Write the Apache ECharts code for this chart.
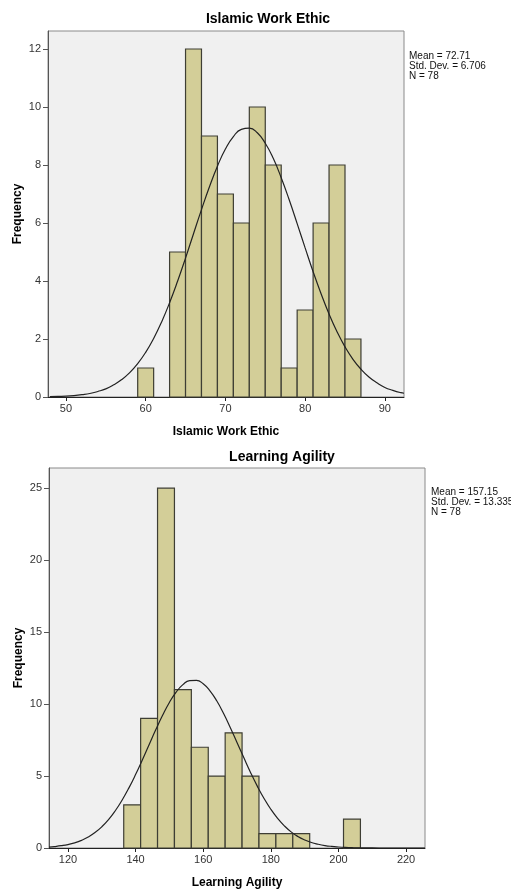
<!DOCTYPE html>
<html lang="en">
<head>
    <meta charset="UTF-8">
    <title>Histograms</title>
    <script src="https://cdn.jsdelivr.net/npm/echarts@6/dist/echarts.min.js"></script>
    <style>
        html, body { margin: 0; padding: 0; background: #fff; }
    </style>
</head>
<body>
<div id="main" style="width:511px;height:890px;"></div>
<script type="text/javascript">
    // Islamic Work Ethic: bin edges (width 2) and counts
    var iweBinStart = [59, 63, 65, 67, 69, 71, 73, 75, 77, 79, 81, 83, 85];
    var iweBinWidth = 2;
    var iweCounts = [1, 5, 12, 9, 7, 6, 10, 8, 1, 3, 6, 8, 2];
    // normal curve
    var iweCurveX = [48, 49, 50, 51, 52, 53, 54, 55, 56, 57, 58, 59, 60, 61, 62, 63, 64, 65, 66, 67, 68, 69, 70,
        71, 72, 73, 74, 75, 76, 77, 78, 79, 80, 81, 82, 83, 84, 85, 86, 87, 88, 89, 90, 91, 92, 92.4];
    var iweCurveY = [0.01, 0.02, 0.03, 0.05, 0.08, 0.12, 0.19, 0.28, 0.42, 0.6, 0.84, 1.15, 1.54, 2.02, 2.59, 3.25, 3.99, 4.79, 5.63, 6.46, 7.25, 7.96, 8.55,
        8.98, 9.23, 9.27, 9.11, 8.75, 8.23, 7.56, 6.8, 5.98, 5.14, 4.32, 3.56, 2.86, 2.25, 1.73, 1.3, 0.96, 0.69, 0.49, 0.33, 0.23, 0.15, 0.13];
    var iweXTicks = [50, 60, 70, 80, 90];
    var iweYTicks = [0, 2, 4, 6, 8, 10, 12];

    // Learning Agility: bin edges (width 5) and counts
    var laBinStart = [136.5, 141.5, 146.5, 151.5, 156.5, 161.5, 166.5, 171.5, 176.5, 181.5, 186.5, 201.5];
    var laBinWidth = 5;
    var laCounts = [3, 9, 25, 11, 7, 5, 8, 5, 1, 1, 1, 2];
    var laCurveX = [114.4, 116, 118, 120, 122, 124, 126, 128, 130, 132, 134, 136, 138, 140, 142, 144, 146, 148, 150, 152, 154, 156,
        158, 160, 162, 164, 166, 168, 170, 172, 174, 176, 178, 180, 182, 184, 186, 188, 190, 192, 194, 196, 198, 200, 202, 204, 206, 208, 212, 218, 225.6];
    var laCurveY = [0.06, 0.1, 0.16, 0.24, 0.36, 0.53, 0.76, 1.07, 1.47, 1.97, 2.59, 3.32, 4.16, 5.1, 6.12, 7.18, 8.23, 9.22, 10.11, 10.83, 11.35, 11.63,
        11.65, 11.41, 10.92, 10.23, 9.36, 8.38, 7.33, 6.28, 5.25, 4.3, 3.44, 2.69, 2.06, 1.54, 1.12, 0.8, 0.56, 0.38, 0.26, 0.17, 0.11, 0.07, 0.04, 0.02, 0.01, 0.01, 0, 0, 0];
    var laXTicks = [120, 140, 160, 180, 200, 220];
    var laYTicks = [0, 5, 10, 15, 20, 25];

    var myChart = echarts.init(document.getElementById('main'));
    var font = 'Liberation Sans, Arial, sans-serif';

    function bins(starts, width, counts) {
        return starts.map(function (s, i) { return [s, s + width, counts[i]]; });
    }
    function zip(xs, ys) {
        return xs.map(function (x, i) { return [x, ys[i]]; });
    }
    function renderBar(params, api) {
        var p0 = api.coord([api.value(0), api.value(2)]);
        var p1 = api.coord([api.value(1), 0]);
        return {
            type: 'rect',
            shape: { x: p0[0], y: p0[1], width: p1[0] - p0[0], height: p1[1] - p0[1] },
            style: { fill: '#d3ce98', stroke: '#3e3e34', lineWidth: 1.2 }
        };
    }
    function xAxis(idx, min, max, ticks, name) {
        return {
            type: 'value', gridIndex: idx, min: min, max: max,
            name: name, nameLocation: 'middle', nameGap: 29, nameMoveOverlap: false,
            nameTextStyle: { fontFamily: font, fontWeight: 'bold', fontSize: 12, color: '#000' },
            splitLine: { show: false },
            axisLine: { lineStyle: { color: '#222', width: 1 } },
            axisTick: { length: 4, lineStyle: { color: '#222' }, customValues: ticks },
            axisLabel: { fontFamily: font, fontSize: 11, color: '#333', margin: 6, customValues: ticks }
        };
    }
    function yAxis(idx, max, ticks) {
        return {
            type: 'value', gridIndex: idx, min: 0, max: max,
            name: 'Frequency', nameLocation: 'middle', nameGap: 24, nameRotate: 90, nameMoveOverlap: false,
            nameTextStyle: { fontFamily: font, fontWeight: 'bold', fontSize: 12, color: '#000' },
            splitLine: { show: false },
            axisLine: { show: true, lineStyle: { color: '#555', width: 1 } },
            axisTick: { length: 5, lineStyle: { color: '#555' }, customValues: ticks },
            axisLabel: { fontFamily: font, fontSize: 11, color: '#333', margin: 7, customValues: ticks }
        };
    }

    var option = {
        animation: false,
        grid: [
            { left: 48, top: 31, width: 356, height: 366, outerBoundsMode: 'none', show: true, backgroundColor: '#f0f0f0', borderColor: '#8a8a8a', borderWidth: 1 },
            { left: 49, top: 468, width: 376, height: 380, outerBoundsMode: 'none', show: true, backgroundColor: '#f0f0f0', borderColor: '#8a8a8a', borderWidth: 1 }
        ],
        xAxis: [
            xAxis(0, 47.75, 92.4, iweXTicks, 'Islamic Work Ethic'),
            xAxis(1, 114.4, 225.6, laXTicks, 'Learning Agility')
        ],
        yAxis: [
            yAxis(0, 12.62, iweYTicks),
            yAxis(1, 26.4, laYTicks)
        ],
        graphic: [
            { type: 'text', x: 268, y: 19, style: { text: 'Islamic Work Ethic', font: 'bold 14px ' + font, fill: '#000', align: 'center', verticalAlign: 'middle' } },
            { type: 'text', x: 282, y: 457, style: { text: 'Learning Agility', font: 'bold 14px ' + font, fill: '#000', align: 'center', verticalAlign: 'middle' } },
            { type: 'text', x: 409, y: 51, style: { text: 'Mean = 72.71\nStd. Dev. = 6.706\nN = 78', font: '10px ' + font, lineHeight: 10, fill: '#111' } },
            { type: 'text', x: 431, y: 487, style: { text: 'Mean = 157.15\nStd. Dev. = 13.335\nN = 78', font: '10px ' + font, lineHeight: 10, fill: '#111' } }
        ],
        series: [
            {
                type: 'custom', xAxisIndex: 0, yAxisIndex: 0, z: 2,
                renderItem: renderBar, encode: { x: [0, 1], y: 2 },
                data: bins(iweBinStart, iweBinWidth, iweCounts)
            },
            {
                type: 'line', xAxisIndex: 0, yAxisIndex: 0, z: 10, smooth: true, symbol: 'none',
                lineStyle: { color: '#222', width: 1.2 },
                data: zip(iweCurveX, iweCurveY)
            },
            {
                type: 'custom', xAxisIndex: 1, yAxisIndex: 1, z: 2,
                renderItem: renderBar, encode: { x: [0, 1], y: 2 },
                data: bins(laBinStart, laBinWidth, laCounts)
            },
            {
                type: 'line', xAxisIndex: 1, yAxisIndex: 1, z: 10, smooth: true, symbol: 'none',
                lineStyle: { color: '#222', width: 1.2 },
                data: zip(laCurveX, laCurveY)
            }
        ]
    };
    myChart.setOption(option);
</script>
</body>
</html>
